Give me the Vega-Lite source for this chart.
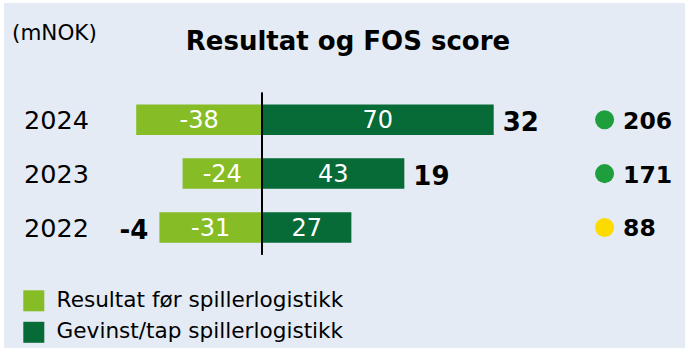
{
  "$schema": "https://vega.github.io/schema/vega-lite/v6.json",
  "width": 681,
  "height": 345,
  "autosize": {"type": "none"},
  "padding": {"left": 4, "top": 3, "right": 2, "bottom": 0},
  "background": "#ffffff",
  "config": {
    "font": "DejaVu Sans",
    "view": {"fill": "#e4ebf4", "stroke": null}
  },
  "title": {
    "text": "Resultat og FOS score",
    "font": "DejaVu Sans",
    "fontSize": 26,
    "fontWeight": "bold",
    "color": "#000000",
    "anchor": "middle",
    "frame": "group",
    "baseline": "alphabetic",
    "offset": -73.4,
    "dx": 3.5
  },
  "data": {
    "values": [
      {"aar": 2024, "resultat": -38, "gevinst": 70, "total": 32, "fos": 206, "fosStatus": "grønn"},
      {"aar": 2023, "resultat": -24, "gevinst": 43, "total": 19, "fos": 171, "fosStatus": "grønn"},
      {"aar": 2022, "resultat": -31, "gevinst": 27, "total": -4, "fos": 88, "fosStatus": "gul"}
    ]
  },
  "encoding": {
    "y": {
      "field": "aar",
      "type": "quantitative",
      "scale": {"domain": [2019.86, 2026.07], "nice": false, "zero": false},
      "axis": null
    }
  },
  "resolve": {"scale": {"x": "independent"}},
  "layer": [
    {
      "transform": [{"fold": ["resultat", "gevinst"], "as": ["serie", "verdi"]}],
      "mark": {"type": "bar", "orient": "horizontal", "height": 30.5},
      "encoding": {
        "x": {
          "field": "verdi",
          "type": "quantitative",
          "scale": {"domain": [-77.946, 127.795], "nice": false, "zero": false},
          "axis": null
        },
        "x2": {"datum": 0},
        "color": {
          "field": "serie",
          "type": "nominal",
          "scale": {"domain": ["resultat", "gevinst"], "range": ["#86bc25", "#066b37"]},
          "legend": {
            "title": null,
            "orient": "none",
            "legendX": 19,
            "legendY": 287,
            "direction": "vertical",
            "padding": 0,
            "symbolType": "square",
            "symbolSize": 441,
            "symbolStrokeWidth": 0,
            "symbolOpacity": 1,
            "labelFont": "DejaVu Sans",
            "labelFontSize": 21.6,
            "labelColor": "#000000",
            "labelOffset": 12,
            "rowPadding": 8.5,
            "labelLimit": 400,
            "labelExpr": "datum.label == 'resultat' ? 'Resultat før spillerlogistikk' : 'Gevinst/tap spillerlogistikk'"
          }
        }
      }
    },
    {
      "transform": [{"fold": ["resultat", "gevinst"], "as": ["serie", "verdi"]}],
      "mark": {"type": "text", "color": "#ffffff", "fontSize": 24, "align": "center", "baseline": "alphabetic", "dy": 8.7},
      "encoding": {
        "x": {
          "field": "verdi",
          "type": "quantitative",
          "scale": {"domain": [-155.892, 255.59], "nice": false, "zero": false},
          "axis": null
        },
        "text": {"field": "verdi", "type": "nominal"}
      }
    },
    {
      "mark": {"type": "rule", "color": "#000000", "strokeWidth": 2},
      "encoding": {
        "x": {
          "datum": 0,
          "type": "quantitative",
          "scale": {"domain": [-77.946, 127.795], "nice": false, "zero": false},
          "axis": null
        },
        "y": {
          "datum": 2024.5,
          "type": "quantitative",
          "scale": {"domain": [2019.86, 2026.07], "nice": false, "zero": false},
          "axis": null
        },
        "y2": {"datum": 2021.5}
      }
    },
    {
      "mark": {"type": "text", "align": "right", "dy": 9.7, "baseline": "alphabetic", "fontSize": 25.5, "color": "#000000"},
      "encoding": {
        "x": {
          "datum": -52.27,
          "type": "quantitative",
          "scale": {"domain": [-77.946, 127.795], "nice": false, "zero": false},
          "axis": null
        },
        "text": {"field": "aar", "type": "nominal"}
      }
    },
    {
      "mark": {"type": "text", "align": "left", "baseline": "alphabetic", "dy": -79.7, "fontSize": 21.5, "color": "#000000"},
      "encoding": {
        "x": {
          "datum": -75.53,
          "type": "quantitative",
          "scale": {"domain": [-77.946, 127.795], "nice": false, "zero": false},
          "axis": null
        },
        "y": {
          "aggregate": "max",
          "field": "aar",
          "type": "quantitative",
          "scale": {"domain": [2019.86, 2026.07], "nice": false, "zero": false},
          "axis": null
        },
        "text": {"value": "(mNOK)"}
      }
    },
    {
      "transform": [{"filter": "datum.total > 0"}],
      "mark": {"type": "text", "align": "left", "dx": 9, "dy": 11, "baseline": "alphabetic", "fontSize": 26, "fontWeight": "bold", "color": "#000000"},
      "encoding": {
        "x": {
          "field": "gevinst",
          "type": "quantitative",
          "scale": {"domain": [-77.946, 127.795], "nice": false, "zero": false},
          "axis": null
        },
        "text": {"field": "total", "type": "nominal"}
      }
    },
    {
      "transform": [{"filter": "datum.total < 0"}],
      "mark": {"type": "text", "align": "right", "dx": -11, "dy": 11, "baseline": "alphabetic", "fontSize": 26, "fontWeight": "bold", "color": "#000000"},
      "encoding": {
        "x": {
          "field": "resultat",
          "type": "quantitative",
          "scale": {"domain": [-77.946, 127.795], "nice": false, "zero": false},
          "axis": null
        },
        "text": {"field": "total", "type": "nominal"}
      }
    },
    {
      "mark": {"type": "circle", "size": 363, "opacity": 1},
      "encoding": {
        "x": {
          "datum": 103.5,
          "type": "quantitative",
          "scale": {"domain": [-77.946, 127.795], "nice": false, "zero": false},
          "axis": null
        },
        "fill": {
          "field": "fosStatus",
          "type": "nominal",
          "scale": {"domain": ["grønn", "gul"], "range": ["#1f9e3e", "#fedb00"]},
          "legend": null
        }
      }
    },
    {
      "mark": {"type": "text", "align": "left", "dx": 18.5, "dy": 8.9, "baseline": "alphabetic", "fontSize": 23.5, "fontWeight": "bold", "color": "#000000"},
      "encoding": {
        "x": {
          "datum": 103.5,
          "type": "quantitative",
          "scale": {"domain": [-77.946, 127.795], "nice": false, "zero": false},
          "axis": null
        },
        "text": {"field": "fos", "type": "quantitative"}
      }
    }
  ]
}
